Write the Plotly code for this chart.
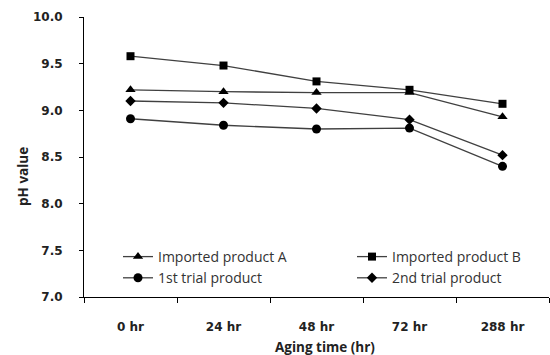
import plotly.graph_objects as go

# Aging time categories
aging_times = ["0 hr", "24 hr", "48 hr", "72 hr", "288 hr"]

# pH values per product
imported_a = [9.22, 9.20, 9.19, 9.19, 8.93]
imported_b = [9.58, 9.48, 9.31, 9.22, 9.07]
trial_1st = [8.91, 8.84, 8.80, 8.81, 8.40]
trial_2nd = [9.10, 9.08, 9.02, 8.90, 8.52]

y_ticks = [7.0, 7.5, 8.0, 8.5, 9.0, 9.5, 10.0]

line_col = "#404040"
mark_col = "#000000"

series = [
    ("Imported product A", imported_a, "triangle-up", 9, "legend"),
    ("Imported product B", imported_b, "square", 8, "legend2"),
    ("1st trial product", trial_1st, "circle", 9, "legend"),
    ("2nd trial product", trial_2nd, "diamond", 8, "legend2"),
]

fig = go.Figure()
for name, vals, sym, size, leg in series:
    fig.add_trace(go.Scatter(
        x=aging_times, y=vals, name=name, mode="lines+markers",
        line=dict(color=line_col, width=1.3),
        marker=dict(symbol=sym, size=size, color=mark_col),
        legend=leg,
    ))

W, H = 550, 355
L, R, T, B = 84, 1, 17, 58
PW, PH = W - L - R, H - T - B


def px_x(x):
    return (x - L) / PW


def px_y(y):
    return (H - B - y) / PH


tick_font = dict(family="DejaVu Sans", size=12, color="#222222", weight="bold")
legend_font = dict(family="Open Sans", size=14, color="#333333")
title_font = dict(family="Open Sans", size=13.5, color="#222222", weight="bold")

fig.update_layout(
    width=W, height=H,
    margin=dict(l=L, r=R, t=T, b=B),
    paper_bgcolor="white", plot_bgcolor="white",
    legend=dict(x=px_x(118), y=px_y(241),
                xanchor="left", yanchor="top", orientation="v",
                font=legend_font, bgcolor="rgba(0,0,0,0)",
                tracegroupgap=0, itemwidth=30),
    legend2=dict(x=px_x(352), y=px_y(241),
                 xanchor="left", yanchor="top", orientation="v",
                 font=legend_font, bgcolor="rgba(0,0,0,0)",
                 tracegroupgap=0, itemwidth=30),
    xaxis=dict(
        type="category", range=[-0.5, 4.5], tickson="boundaries",
        ticks="outside", ticklen=5, tickcolor="black", tickwidth=1,
        showline=True, linecolor="black", linewidth=1,
        showgrid=False, zeroline=False,
        tickfont=tick_font, ticklabelstandoff=19,
    ),
    yaxis=dict(
        range=[7, 10], tickvals=y_ticks, tickformat=".1f",
        ticks="outside", ticklen=4, tickcolor="black", tickwidth=1,
        showline=True, linecolor="black", linewidth=1,
        showgrid=False, zeroline=False,
        tickfont=tick_font, ticklabelstandoff=14,
    ),
    annotations=[
        dict(text="Aging time (hr)", x=px_x(325), y=px_y(347),
             xanchor="center", yanchor="middle",
             xref="paper", yref="paper", showarrow=False, font=title_font),
        dict(text="pH value", x=px_x(23), y=px_y(176), textangle=-90,
             xanchor="center", yanchor="middle",
             xref="paper", yref="paper", showarrow=False, font=title_font),
    ],
)

fig.write_html("out.html")
